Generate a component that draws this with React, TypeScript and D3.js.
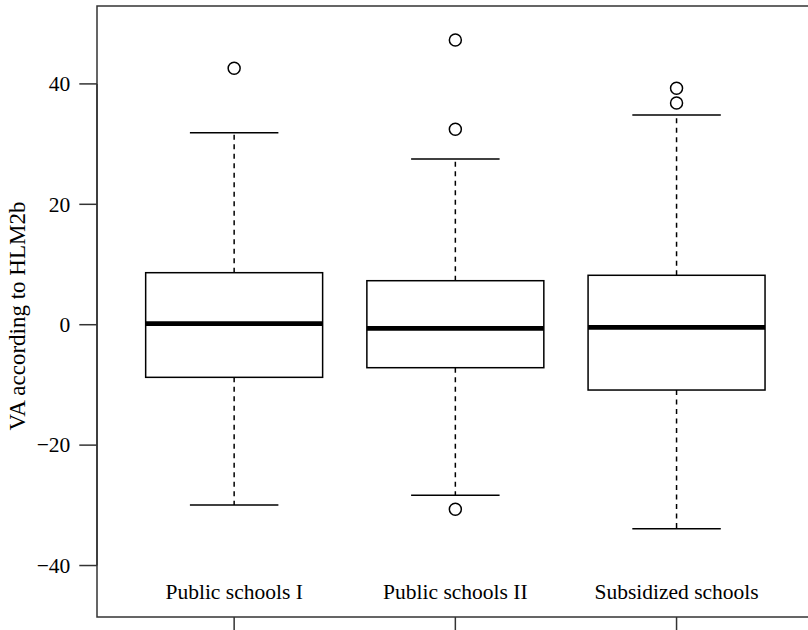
import React from "react";
import * as d3 from "d3";

const categories = ["Public schools I", "Public schools II", "Subsidized schools"];
const lowerWhisker = [-29.95, -28.34, -33.89];
const q1 = [-8.74, -7.14, -10.85];
const median = [0.17, -0.6, -0.43];
const q3 = [8.64, 7.31, 8.21];
const upperWhisker = [31.89, 27.52, 34.83];
const outliers: number[][] = [[42.59], [47.29, 32.46, -30.66], [39.27, 36.83]];
const yTicks = [-40, -20, 0, 20, 40];
const yLabel = "VA according to HLM2b";

const W = 808;
const H = 630;
const left = 97;
const top = 6;
const right = 813.7;
const bottom = 617;
const font = "'Liberation Serif', 'Times New Roman', serif";

export default function App() {
  const x = d3.scaleLinear().domain([0.38, 3.62]).range([left, right]);
  const y = d3.scaleLinear().domain([-48.55, 52.94]).range([bottom, top]);
  const tickLen = 17.7;
  const fs = 21.5;
  const frameColor = "#333";

  return (
    <svg
      width={W}
      height={H}
      style={{ position: "absolute", left: 0, top: 0, background: "#fff" }}
      fontFamily={font}
    >
      <rect x={0} y={0} width={W} height={H} fill="#fff" />
      {/* frame */}
      <rect
        x={left}
        y={top}
        width={right - left}
        height={bottom - top}
        fill="none"
        stroke={frameColor}
        strokeWidth={1.5}
      />
      {/* y axis */}
      <line
        x1={left}
        x2={left}
        y1={y(yTicks[0])}
        y2={y(yTicks[yTicks.length - 1])}
        stroke={frameColor}
        strokeWidth={1.5}
      />
      {yTicks.map((t) => (
        <g key={t}>
          <line x1={left - tickLen} x2={left} y1={y(t)} y2={y(t)} stroke={frameColor} strokeWidth={1.5} />
          <text
            x={left - tickLen - 9}
            y={y(t)}
            dy="0.34em"
            textAnchor="end"
            fontSize={fs}
            fill="#000"
          >
            {t < 0 ? "\u2212" + Math.abs(t) : String(t)}
          </text>
        </g>
      ))}
      {/* y label */}
      <text
        transform={`translate(25, 316) rotate(-90)`}
        textAnchor="middle"
        fontSize={23}
        fill="#000"
      >
        {yLabel}
      </text>
      {/* x ticks */}
      {categories.map((c, i) => (
        <line
          key={"xt" + i}
          x1={x(i + 1)}
          x2={x(i + 1)}
          y1={bottom}
          y2={bottom + tickLen}
          stroke={frameColor}
          strokeWidth={1.5}
        />
      ))}
      {/* boxes */}
      {categories.map((c, i) => {
        const cx = x(i + 1);
        const bl = x(i + 1 - 0.4);
        const br = x(i + 1 + 0.4);
        const cl = x(i + 1 - 0.2);
        const cr = x(i + 1 + 0.2);
        return (
          <g key={c}>
            <line x1={cx} x2={cx} y1={y(q3[i])} y2={y(upperWhisker[i])} stroke="#000" strokeWidth={1.5} strokeDasharray="5,4.5" />
            <line x1={cx} x2={cx} y1={y(q1[i])} y2={y(lowerWhisker[i])} stroke="#000" strokeWidth={1.5} strokeDasharray="5,4.5" />
            <line x1={cl} x2={cr} y1={y(upperWhisker[i])} y2={y(upperWhisker[i])} stroke="#000" strokeWidth={1.5} />
            <line x1={cl} x2={cr} y1={y(lowerWhisker[i])} y2={y(lowerWhisker[i])} stroke="#000" strokeWidth={1.5} />
            <rect
              x={bl}
              y={y(q3[i])}
              width={br - bl}
              height={y(q1[i]) - y(q3[i])}
              fill="#fff"
              stroke="#000"
              strokeWidth={1.5}
            />
            <line x1={bl} x2={br} y1={y(median[i])} y2={y(median[i])} stroke="#000" strokeWidth={4.7} />
            {outliers[i].map((o, j) => (
              <circle key={j} cx={cx} cy={y(o)} r={6} fill="none" stroke="#000" strokeWidth={1.5} />
            ))}
            <text x={cx} y={599} textAnchor="middle" fontSize={fs} fill="#000">
              {c}
            </text>
          </g>
        );
      })}
    </svg>
  );
}
